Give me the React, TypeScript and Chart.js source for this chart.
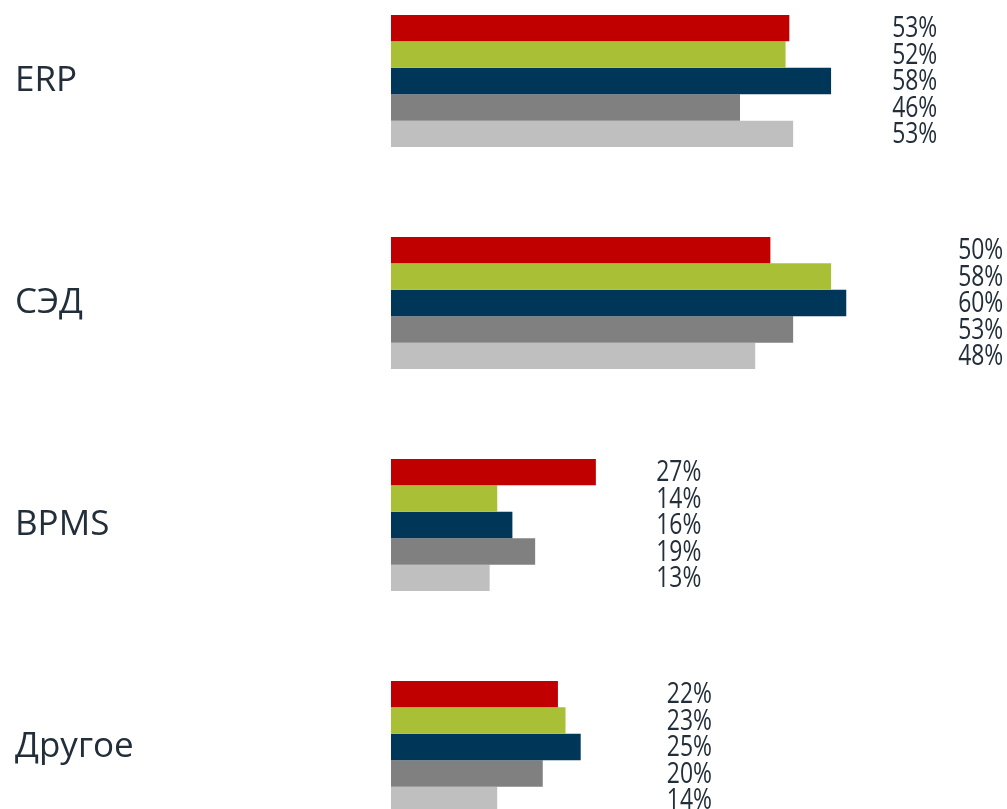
import React, { useEffect, useRef } from "react";
import { Chart, registerables } from "chart.js";

Chart.register(...registerables);

const categories = ["ERP", "СЭД", "BPMS", "Другое"];
const series1 = [52.5, 50, 27, 22];
const series2 = [52, 58, 14, 23];
const series3 = [58, 60, 16, 25];
const series4 = [46, 53, 19, 20];
const series5 = [53, 48, 13, 14];
const seriesColors = ["#C00000", "#A9C036", "#003657", "#808080", "#BFBFBF"];
// value (in axis units) where each group's labels end (right-aligned)
const labelAnchor = [72, 80.7, 40.9, 42.3];

const TEXT_COLOR = "#222E39";
const NARROW = 0.79;

const labelsPlugin = {
  id: "customLabels",
  afterDatasetsDraw(chart: any) {
    const ctx = chart.ctx;
    const xs = chart.scales.x;
    const ys = chart.scales.y;
    ctx.save();
    ctx.fillStyle = TEXT_COLOR;
    ctx.font = "35px 'Open Sans'";
    ctx.textAlign = "left";
    ctx.textBaseline = "middle";
    categories.forEach((c, i) => {
      ctx.fillText(c, 15, ys.getPixelForValue(i));
    });
    ctx.font = "29px 'Open Sans'";
    ctx.textAlign = "right";
    chart.data.datasets.forEach((ds: any, di: number) => {
      const meta = chart.getDatasetMeta(di);
      meta.data.forEach((bar: any, i: number) => {
        const x = xs.getPixelForValue(labelAnchor[i]);
        ctx.save();
        ctx.translate(x, bar.y + 1);
        ctx.scale(NARROW, 1);
        ctx.fillText(Math.round(ds.data[i]) + "%", 0, 0);
        ctx.restore();
      });
    });
    ctx.restore();
  },
};

export default function App() {
  const ref = useRef<HTMLCanvasElement>(null);
  useEffect(() => {
    if (!ref.current) return;
    const all = [series1, series2, series3, series4, series5];
    const chart = new Chart(ref.current, {
      type: "bar",
      data: {
        labels: categories,
        datasets: all.map((d, i) => ({
          label: "s" + (i + 1),
          data: d,
          backgroundColor: seriesColors[i],
          borderWidth: 0,
          barPercentage: 1,
          categoryPercentage: 0.595,
        })),
      },
      options: {
        indexAxis: "y",
        animation: false,
        responsive: true,
        maintainAspectRatio: false,
        layout: { padding: { left: 391, right: 9, top: 0, bottom: 0 } },
        plugins: { legend: { display: false }, tooltip: { enabled: false } },
        scales: {
          x: { display: false, min: 0, max: 80 },
          y: { display: false },
        },
      },
      plugins: [labelsPlugin],
    });
    return () => chart.destroy();
  }, []);
  return (
    <div style={{ position: "absolute", left: 0, top: -30, width: 1007, height: 888 }}>
      <canvas ref={ref} />
    </div>
  );
}
